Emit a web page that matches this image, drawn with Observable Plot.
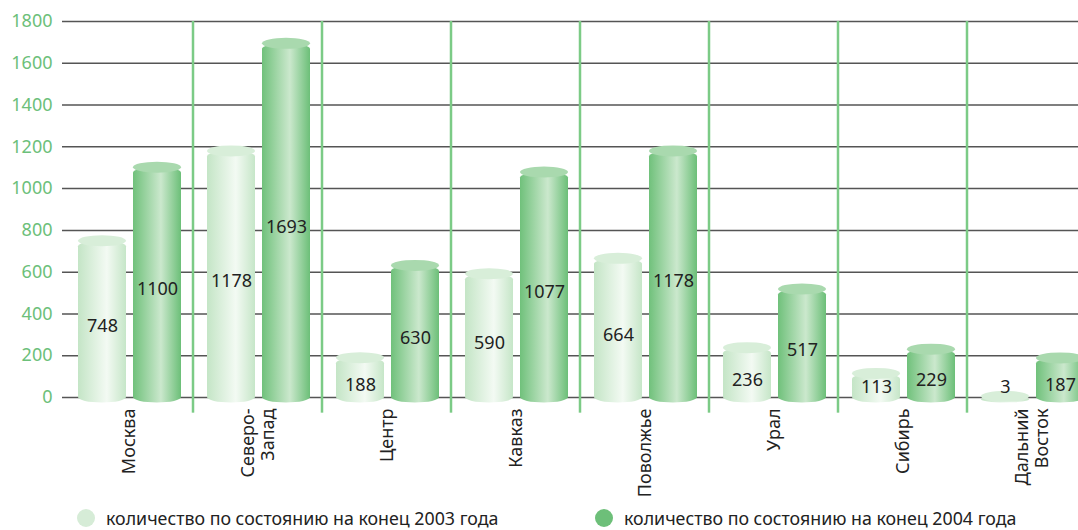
<!DOCTYPE html>
<html><head><meta charset="utf-8">
<script src="https://cdn.jsdelivr.net/npm/d3@7"></script>
<script src="https://cdn.jsdelivr.net/npm/@observablehq/plot@0.6"></script>
<style>
body{margin:0;background:#fff;font-family:"Noto Sans",sans-serif;}
#wrap{position:relative;width:1078px;height:530px;overflow:hidden;background:#fff}
.leg{position:absolute;top:506px;font-size:17.8px;color:#222;display:flex;align-items:center;white-space:nowrap;line-height:24px}
.leg .dot{display:inline-block;width:18px;height:18px;border-radius:50%;margin-right:11px}
</style></head><body><div id="wrap"></div>
<script>
const regions = ["Москва","Северо-Запад","Центр","Кавказ","Поволжье","Урал","Сибирь","Дальний Восток"];
const regionLabels = ["Москва","Северо-\nЗапад","Центр","Кавказ","Поволжье","Урал","Сибирь","Дальний\nВосток"];
const values2003 = [748,1178,188,590,664,236,113,3];
const values2004 = [1100,1693,630,1077,1178,517,229,187];
const yTicks = [0,200,400,600,800,1000,1200,1400,1600,1800];
const seriesLabels = ["количество по состоянию на конец 2003 года","количество по состоянию на конец 2004 года"];
const seriesColors = ["#d6ecd7","#6dbf79"];

const rows = regions.map((r,i)=>({region:r, label:regionLabels[i], v2003:values2003[i], v2004:values2004[i]}));

const defs = () => {
  const d = d3.create("svg:defs");
  const mk = (id, stops) => {
    const g = d.append("linearGradient").attr("id",id).attr("x1",0).attr("x2",1).attr("y1",0).attr("y2",0);
    stops.forEach(([o,c])=>g.append("stop").attr("offset",o).attr("stop-color",c));
  };
  mk("g03", [[0,"#c4e5c6"],[0.6,"#f3faf3"],[1,"#c6e6c8"]]);
  mk("g04", [[0,"#70c17b"],[0.58,"#cbe8cd"],[1,"#6cbf78"]]);
  return d.node();
};

const ins03 = {insetLeft:14, insetRight:67};
const ins04 = {insetLeft:69, insetRight:12};

const chart = Plot.plot({
  width:1078, height:500,
  marginLeft:62, marginRight:0, marginTop:21, marginBottom:103,
  style:{fontFamily:"Noto Sans", background:"white", overflow:"hidden"},
  x:{domain:regions, range:[64,1096], padding:0, axis:null},
  y:{domain:[0,1800], axis:null},
  marks:[
    defs,
    Plot.ruleY(yTicks, {stroke:"#555", strokeWidth:1.5}),
    Plot.barY(rows.slice(1), {x:"region", y1:-75, y2:1800, fill:"#7ccb86", insetLeft:-1.25, insetRight:129-1.25}),
    Plot.barY(rows, {x:"region", y1:0, y2:"v2003", fill:"url(#g03)", ...ins03, insetBottom:-5.5, rx:24, ry:5.5}),
    Plot.barY(rows, {x:"region", y1:"v2003", y2:"v2003", fill:"#d8eed9", ...ins03, insetTop:-5.5, insetBottom:-5.5, rx:24, ry:5.5}),
    Plot.barY(rows, {x:"region", y1:0, y2:"v2004", fill:"url(#g04)", ...ins04, insetBottom:-5.5, rx:24, ry:5.5}),
    Plot.barY(rows, {x:"region", y1:"v2004", y2:"v2004", fill:"#a9d9ae", ...ins04, insetTop:-5.5, insetBottom:-5.5, rx:24, ry:5.5}),
    Plot.text(rows, {x:"region", y:d=>Math.max(d.v2003/2, 85), text:d=>String(d.v2003), dx:-26.5, dy:7, fontSize:18, fill:"#222"}),
    Plot.text(rows, {x:"region", y:d=>Math.max(d.v2004/2, 85), text:d=>String(d.v2004), dx:28.5, dy:7, fontSize:18, fill:"#222"}),
    Plot.text(rows, {x:"region", frameAnchor:"bottom", text:"label", rotate:-90, textAnchor:"end", lineAnchor:"middle", dy:11, fontSize:18, fill:"#222", lineHeight:1.1}),
    Plot.axisY({ticks:yTicks, tickSize:0, tickPadding:10, fontSize:18, color:"#6cc07a", tickFormat:d=>String(d), label:null})
  ]
});
const wrap = document.getElementById("wrap");
wrap.appendChild(chart);
[[77,0],[595,1]].forEach(([left,i])=>{
  const el = document.createElement("div");
  el.className="leg"; el.style.left=left+"px";
  el.innerHTML = `<span class="dot" style="background:${seriesColors[i]}"></span><span>${seriesLabels[i]}</span>`;
  wrap.appendChild(el);
});
</script></body></html>
